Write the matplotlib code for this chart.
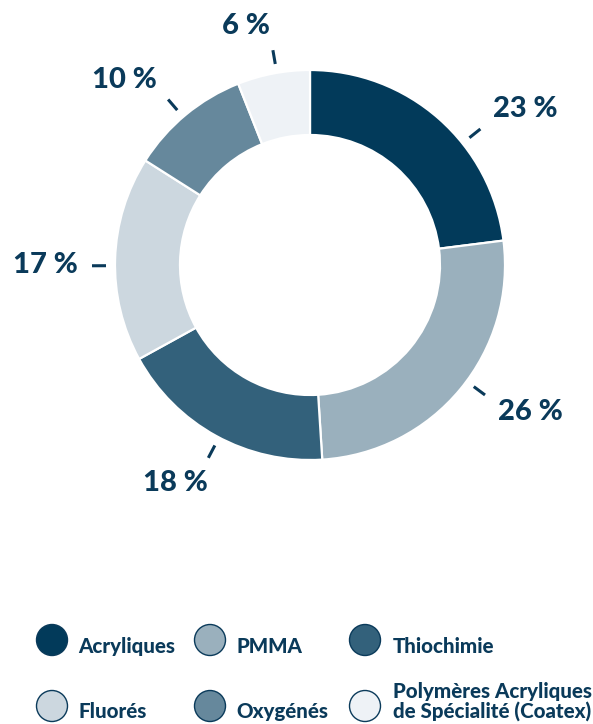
import numpy as np
import matplotlib
matplotlib.use("Agg")
import matplotlib.pyplot as plt
from matplotlib.patches import Circle

# ---- data ----
categories = ["Acryliques", "PMMA", "Thiochimie", "Fluorés", "Oxygénés",
              "Polymères Acryliques\nde Spécialité (Coatex)"]
values = [23, 26, 18, 17, 10, 6]
labels = ["23 %", "26 %", "18 %", "17 %", "10 %", "6 %"]
colors = ["#023a5a", "#9ab0bd", "#33617b", "#ccd7df", "#66889c", "#eef2f6"]

# ---- layout / style ----
W, H = 593, 724
TXT = "#0a3a5a"
FONT = "Lato"
cx, cy_img = 310, 265
R_OUT, WIDTH = 195, 65
# label placement tweaks (degrees / pixels)
tick_nudge = [-10, 3, 1, 2, 1, -1]
text_pos = [(36, 266), (-33.7, 265), (-121.8, 256), (180, 265), (135, 262), (105, 247)]

fig = plt.figure(figsize=(W / 100, H / 100), dpi=100)
ax = fig.add_axes([0, 0, 1, 1])
cy = H - cy_img

wedges, _ = ax.pie(values, colors=colors, startangle=90, counterclock=False,
                   radius=R_OUT, center=(cx, cy),
                   wedgeprops=dict(width=WIDTH, edgecolor="white", linewidth=1.6))

for w, lab, dn, (ta, tr) in zip(wedges, labels, tick_nudge, text_pos):
    mid = np.deg2rad((w.theta1 + w.theta2) / 2 + dn)
    r1, r2 = 204, 218
    ax.plot([cx + r1 * np.cos(mid), cx + r2 * np.cos(mid)],
            [cy + r1 * np.sin(mid), cy + r2 * np.sin(mid)],
            color=TXT, lw=2.2, solid_capstyle="butt")
    t = np.deg2rad(ta)
    ax.text(cx + tr * np.cos(t), cy + tr * np.sin(t), lab, ha="center", va="center",
            fontsize=21, fontweight="black", color=TXT, family=FONT)

# legend
leg_cols = [52, 210, 365]
leg_text_x = [78, 236, 393]
leg_rows = [640, 706]
leg_base = [653, 718]
for i, (cat, col) in enumerate(zip(categories, colors)):
    r, c = divmod(i, 3)
    x = leg_cols[c]
    ax.add_patch(Circle((x, H - leg_rows[r]), 15.5, facecolor=col, edgecolor=TXT, lw=1.0))
    lines = cat.split("\n")
    n = len(lines)
    for k, line in enumerate(lines):
        base = leg_base[r] - (n - 1 - k) * 20
        ax.text(leg_text_x[c], H - base, line, ha="left", va="baseline",
                fontsize=14.8, fontweight="black", color=TXT, family=FONT)

ax.set_xlim(0, W)
ax.set_ylim(0, H)
ax.set_aspect("equal")
ax.axis("off")
fig.savefig("out.png", dpi=100, facecolor="white")
